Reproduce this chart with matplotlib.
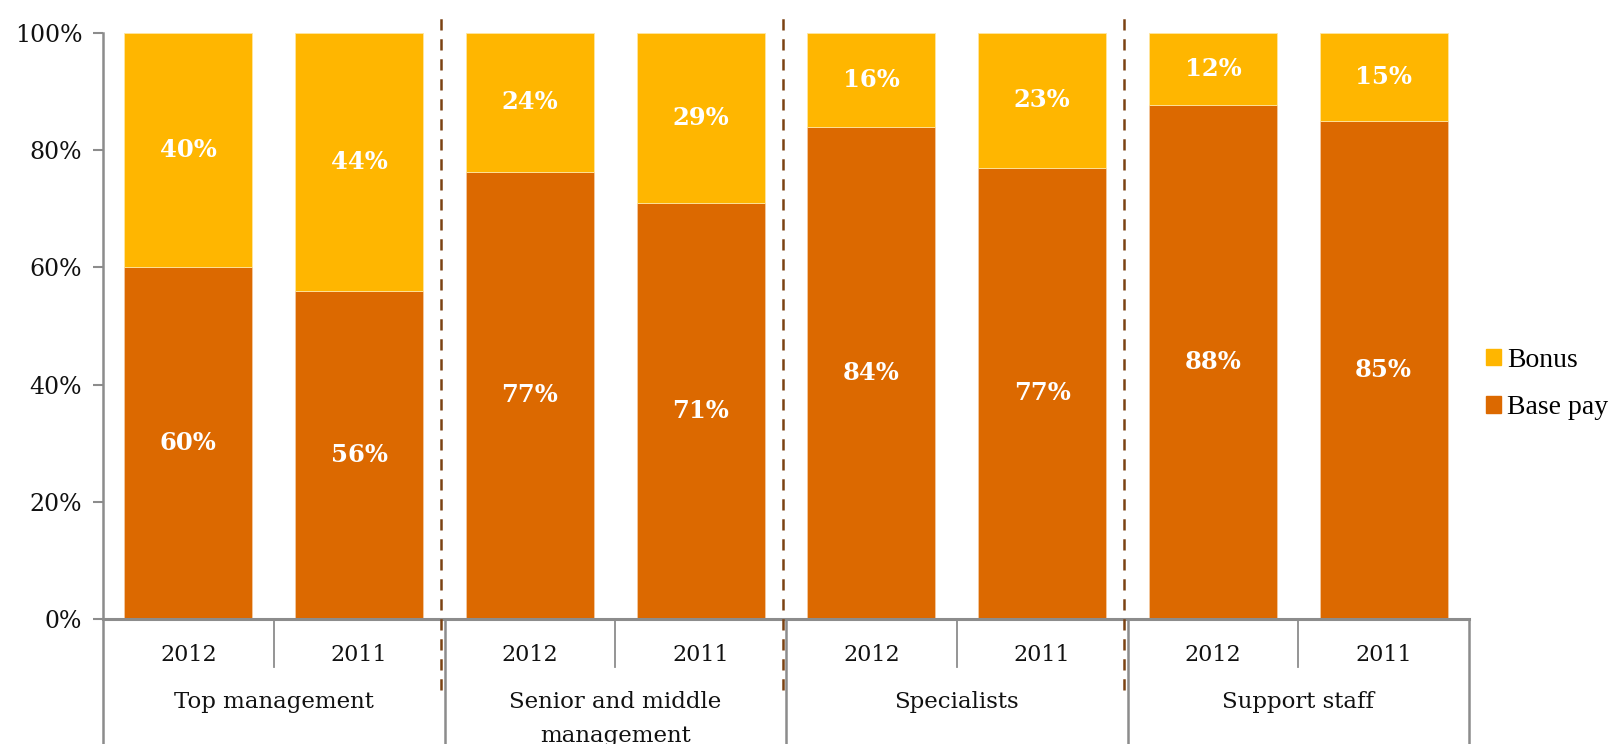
import matplotlib
matplotlib.use("Agg")
import matplotlib.pyplot as plt
from matplotlib.patches import Patch
from matplotlib.lines import Line2D
import numpy as np

# ---- data ----
groups = ["Top management", "Senior and middle\nmanagement", "Specialists", "Support staff"]
years = ["2012", "2011"]
base_pay = [60, 56, 76.3, 71, 84, 77, 87.7, 85]
bonus = [40, 44, 23.7, 29, 16, 23, 12.3, 15]
base_labels = ["60%", "56%", "77%", "71%", "84%", "77%", "88%", "85%"]
bonus_labels = ["40%", "44%", "24%", "29%", "16%", "23%", "12%", "15%"]
yticks = [0, 20, 40, 60, 80, 100]
ytick_labels = ["0%", "20%", "40%", "60%", "80%", "100%"]

C_BONUS = "#FFB600"
C_BASE = "#DC6900"
C_GRAY = "#8c8c8c"
C_DASH = "#7B4213"

W, H = 1619, 744
fig = plt.figure(figsize=(W / 100, H / 100), dpi=100)
ax_left, ax_right, ax_top, ax_bot = 103, 1469, 33, 619
ax = fig.add_axes([ax_left / W, 1 - ax_bot / H, (ax_right - ax_left) / W, (ax_bot - ax_top) / H])

n = len(base_pay)
x = np.arange(n)
bw = 0.75
ax.bar(x, base_pay, width=bw, color=C_BASE, edgecolor="#f3c9a0", linewidth=0.6, zorder=2)
ax.bar(x, bonus, bottom=base_pay, width=bw, color=C_BONUS, edgecolor="#ffe6a0", linewidth=0.6, zorder=2)

lab_font = dict(family="DejaVu Serif", fontsize=17.5, fontweight="bold", color="white",
                ha="center", va="center", zorder=3)
for i in range(n):
    ax.text(x[i], base_pay[i] / 2, base_labels[i], **lab_font)
    ax.text(x[i], base_pay[i] + bonus[i] / 2, bonus_labels[i], **lab_font)

ax.set_xlim(-0.5, n - 0.5)
ax.set_ylim(0, 100)
ax.set_yticks(yticks)
ax.set_yticklabels(ytick_labels, family="DejaVu Serif", fontsize=17, color="#111111")
ax.tick_params(axis="y", length=7, width=1.5, color=C_GRAY, pad=8)
ax.set_xticks([])
for s in ["top", "right"]:
    ax.spines[s].set_visible(False)
ax.spines["left"].set_color(C_GRAY)
ax.spines["left"].set_linewidth(1.8)
ax.spines["bottom"].set_color(C_GRAY)
ax.spines["bottom"].set_linewidth(2.2)
ax.spines["bottom"].set_zorder(4)

# category axis below: lines & labels in axes-data blended coords
trans = ax.get_xaxis_transform()
def fy(py):  # figure pixel y -> axes fraction
    return (ax_bot - py) / (ax_bot - ax_top)

for i in range(n):
    ax.text(x[i], fy(661), years[i % 2], transform=trans, ha="center", va="baseline",
            family="DejaVu Serif", fontsize=16, color="#111111", clip_on=False)
for g in range(len(groups)):
    cx = 2 * g + 0.5
    lines = groups[g].split("\n")
    for k, line in enumerate(lines):
        ax.text(cx, fy(708 + 34 * k), line, transform=trans, ha="center", va="baseline",
                family="DejaVu Serif", fontsize=16.5, color="#111111",
                clip_on=False, zorder=5)
    # short separator between years
    ax.add_line(Line2D([2 * g + 0.5] * 2, [0, fy(667)], transform=trans,
                       color=C_GRAY, lw=1.3, clip_on=False))
# group boundaries extending to figure bottom
for b in range(len(groups) + 1):
    bx = 2 * b - 0.5
    ax.add_line(Line2D([bx] * 2, [0, fy(H)], transform=trans,
                       color=C_GRAY, lw=1.8, clip_on=False))
# dashed dividers
for b in range(1, len(groups)):
    bx = 2 * b - 0.52
    ax.add_line(Line2D([bx] * 2, [fy(690), fy(10)], transform=trans,
                       color=C_DASH, lw=1.8, ls=(0, (4.5, 3.5)), clip_on=False, zorder=6))

handles = [Patch(color=C_BONUS, label="Bonus"), Patch(color=C_BASE, label="Base pay")]
fig.legend(handles=handles, loc="center left", bbox_to_anchor=(1486 / W, 1 - 384 / H),
           frameon=False, handlelength=0.54, handleheight=0.54, handletextpad=0.22,
           labelspacing=0.82, borderpad=0, borderaxespad=0,
           prop=dict(family="Liberation Serif", size=20))

fig.savefig("out.png", dpi=100)
